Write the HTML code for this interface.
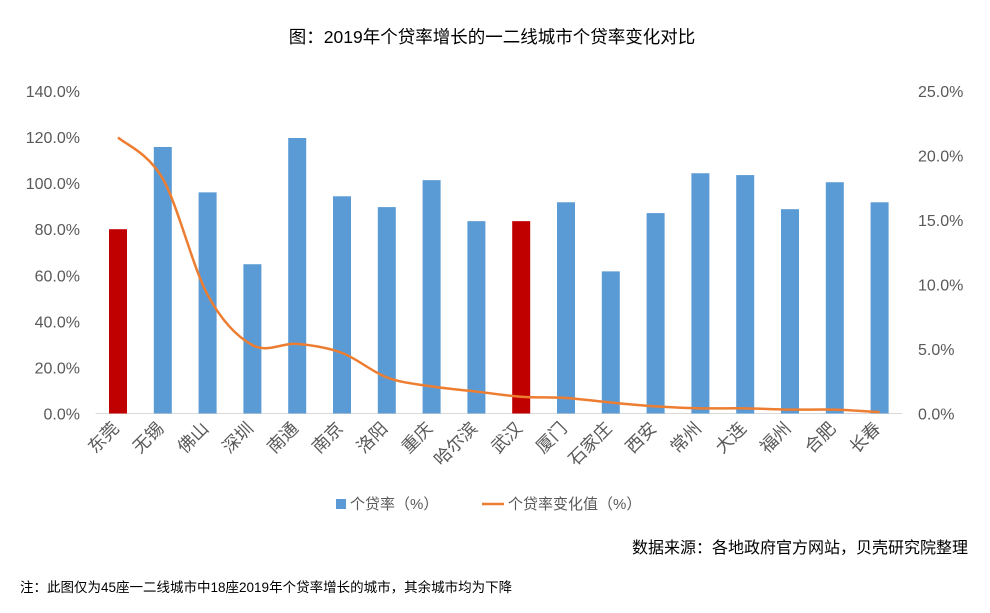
<!DOCTYPE html>
<html><head><meta charset="utf-8"><style>
body{margin:0;background:#fff;font-family:"Liberation Sans","Noto Sans CJK SC",sans-serif;}
svg text{font-family:"Liberation Sans","Noto Sans CJK SC",sans-serif;}
</style></head><body>
<svg id="c" width="990" height="608" xmlns="http://www.w3.org/2000/svg">
<text x="492" y="43" text-anchor="middle" font-size="17.5" fill="#000">图：2019年个贷率增长的一二线城市个贷率变化对比</text>
<g id="g"></g>
<g>
<rect x="336" y="499" width="10" height="10" fill="#5b9bd5"/>
<text x="350" y="509" font-size="15" fill="#595959">个贷率（%）</text>
<line x1="482" y1="504" x2="504" y2="504" stroke="#ed7d31" stroke-width="2.5"/>
<text x="508" y="509" font-size="15" fill="#595959">个贷率变化值（%）</text>
</g>
<text x="968" y="553" text-anchor="end" font-size="16" fill="#000">数据来源：各地政府官方网站，贝壳研究院整理</text>
<text x="20" y="592" font-size="13.5" fill="#000">注：此图仅为45座一二线城市中18座2019年个贷率增长的城市，其余城市均为下降</text>
</svg>
<script>
const categories=["东莞","无锡","佛山","深圳","南通","南京","洛阳","重庆","哈尔滨","武汉","厦门","石家庄","西安","常州","大连","福州","合肥","长春"];
const loanRate=[80,115.7,96,64.8,119.6,94.3,89.6,101.3,83.5,83.5,91.7,61.7,87,104.3,103.5,88.7,100.4,91.7];
const rateChange=[21.4,18.2,9.2,5.3,5.4,4.7,2.8,2.1,1.7,1.3,1.2,0.85,0.55,0.4,0.4,0.3,0.3,0.1];
const highlighted=["东莞","武汉"];
const leftTicks=[0,20,40,60,80,100,120,140];
const rightTicks=[0,5,10,15,20,25];
const X0=95.6,X1=902,Y0=413.5,YT=91;
const step=(X1-X0)/categories.length;
const xc=i=>X0+step*(i+0.5);
const yL=v=>Y0-(v/140)*(Y0-YT);
const yR=v=>Y0-(v/25)*(Y0-YT);
const g=document.getElementById('g');const NS="http://www.w3.org/2000/svg";
function mk(t,a){const e=document.createElementNS(NS,t);for(const k in a)e.setAttribute(k,a[k]);g.appendChild(e);return e;}
leftTicks.forEach(v=>{const t=mk('text',{x:80,y:yL(v)+6,'text-anchor':'end','font-size':16,fill:'#595959'});t.textContent=v.toFixed(1)+'%';

});
rightTicks.forEach(v=>{const t=mk('text',{x:918,y:yR(v)+6,'font-size':16,fill:'#595959'});t.textContent=v.toFixed(1)+'%';

});
const ax=mk('line',{x1:X0,y1:Y0,x2:X1,y2:Y0,stroke:'#d9d9d9','stroke-width':1});


categories.forEach((c,i)=>{const v=loanRate[i];
const b=mk('rect',{x:xc(i)-9,y:yL(v),width:18,height:Y0-yL(v),fill:highlighted.includes(c)?'#c00000':'#5b9bd5'});


const t=mk('text',{x:0,y:0,'text-anchor':'end','font-size':17.5,fill:'#595959',transform:`translate(${xc(i)+2},${Y0+16}) rotate(-45)`});t.textContent=c;

});
const P=rateChange.map((v,i)=>[xc(i),yR(v)]);
let d=`M${P[0][0]},${P[0][1]}`;
for(let i=0;i<P.length-1;i++){const p0=P[Math.max(0,i-1)],p1=P[i],p2=P[i+1],p3=P[Math.min(P.length-1,i+2)];
const c1=[p1[0]+(p2[0]-p0[0])/6,p1[1]+(p2[1]-p0[1])/6],c2=[p2[0]-(p3[0]-p1[0])/6,p2[1]-(p3[1]-p1[1])/6];
d+=` C${c1[0]},${c1[1]} ${c2[0]},${c2[1]} ${p2[0]},${p2[1]}`;}
const ln=mk('path',{d:d,fill:'none',stroke:'#ed7d31','stroke-width':2.5});


</script>
</body></html>
